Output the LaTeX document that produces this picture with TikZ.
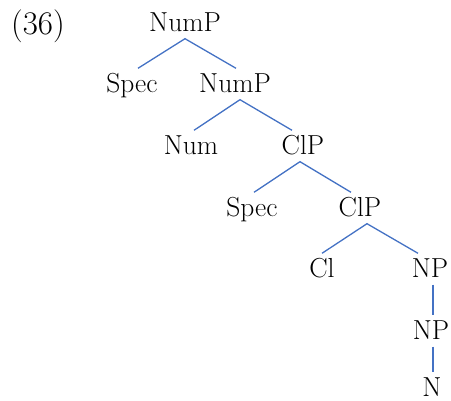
\documentclass[tikz,border=0pt]{standalone}
\usepackage{fontspec}
\usepackage{xcolor}
\usepackage{tikz}
\usetikzlibrary{positioning,calc}
\definecolor{treeBlue}{RGB}{68,114,196}
\tikzset{
  tree/cat/.style={anchor=base, inner xsep=0pt, inner ysep=6.5pt,
                   text height=18pt, text depth=0pt,
                   font=\fontsize{27.5}{32}\selectfont},
  tree/num/.style={anchor=base, inner sep=0pt, font=\fontsize{33}{38}\selectfont},
  tree/edge/.style={draw=treeBlue, line width=1.3pt},
}

\begin{document}
\begin{tikzpicture}[x=1pt, y=-1pt]
  \useasboundingbox (0,0) rectangle (451,401);

  % ---------------- example number ----------------
  \node[tree/num] (exnum) at (38,35) {(36)};

  % ---------------- categories ----------------
  \node[tree/cat] (nump) at (185,32) {NumP};
  \node[tree/cat] (spec) at (132,93) {Spec};
  \node[tree/cat] (numbar) at (235,93) {NumP};
  \node[tree/cat] (num) at (191,155) {Num};
  \node[tree/cat] (clp) at (303,155) {ClP};
  \node[tree/cat] (clspec) at (252,217) {Spec};
  \node[tree/cat] (clbar) at (360,217) {ClP};
  \node[tree/cat] (cl) at (322,278) {Cl};
  \node[tree/cat] (np) at (430,278) {NP};
  \node[tree/cat] (nbar) at (431,340) {NP};
  \node[tree/cat] (n) at (432,397) {N};

  % ---------------- branches ----------------
  \draw[tree/edge] ([xshift=6pt]spec.north) -- (nump.south) -- ([xshift=1pt]numbar.north);
  \draw[tree/edge] ([xshift=3pt]num.north) -- ([xshift=5pt]numbar.south)
                   -- ([xshift=-11pt]clp.north);
  \draw[tree/edge] ([xshift=2pt]clspec.north) -- ([xshift=-3pt]clp.south)
                   -- ([xshift=-9pt]clbar.north);
  \draw[tree/edge] (cl.north) -- ([xshift=7pt]clbar.south)
                   -- ([xshift=-12pt]np.north);

  % unary branches
  \draw[tree/edge] ([xshift=3pt]np.south) -- ([xshift=2pt]nbar.north);
  \draw[tree/edge] ([xshift=2pt]nbar.south) -- ([xshift=1pt]n.north);

\end{tikzpicture}
\end{document}
